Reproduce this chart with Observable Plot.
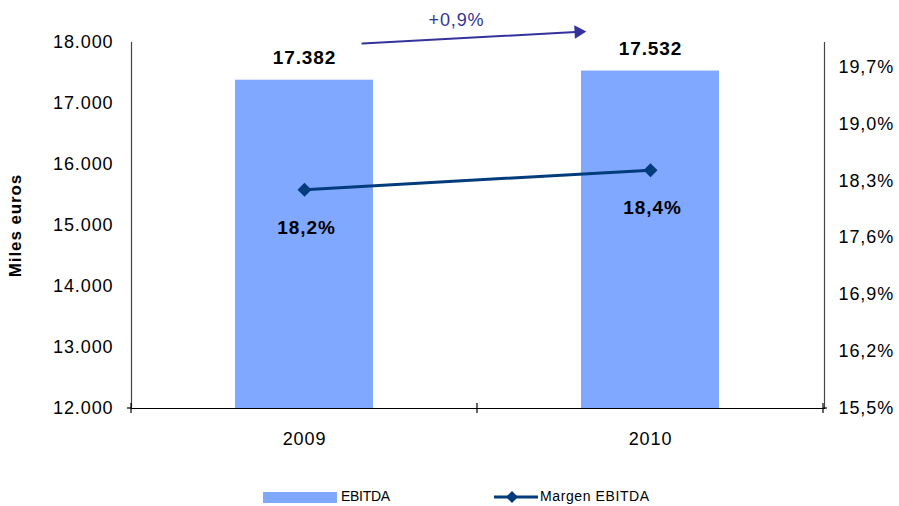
<!DOCTYPE html>
<html>
<head>
<meta charset="utf-8">
<script src="https://cdn.jsdelivr.net/npm/d3@7"></script>
<script src="https://cdn.jsdelivr.net/npm/@observablehq/plot@0.6"></script>
<style>
  body { margin: 0; background: #fff; font-family: "Liberation Sans", Arial, Helvetica, sans-serif; }
  #wrap { position: relative; width: 899px; height: 506px; }
  #chart svg text { letter-spacing: 0.9px; }
  .leg { position: absolute; top: 486px; height: 20px; font-size: 14px; letter-spacing: -0.3px; color: #000; }
</style>
</head>
<body>
<div id="wrap">
  <div id="chart"></div>
  <div class="leg" style="left:263px;">
    <span style="position:absolute;left:0;top:6px;width:74px;height:11px;background:#80a8ff;"></span>
    <span style="position:absolute;left:78px;top:2px;white-space:nowrap;">EBITDA</span>
  </div>
  <div class="leg" style="left:494px;">
    <svg width="44" height="20" style="position:absolute;left:0;top:1px;">
      <line x1="0" y1="10" x2="44" y2="10" stroke="#003c7c" stroke-width="3"/>
      <path d="M18,4 L24,10 L18,16 L12,10 Z" fill="#003c7c"/>
    </svg>
    <span style="position:absolute;left:46px;top:2px;white-space:nowrap;letter-spacing:0.6px;">Margen EBITDA</span>
  </div>
</div>
<script>
// ---- data ----
const years = ["2009", "2010"];
const ebitda = [17382, 17532];          // Miles euros
const margen = [18.19, 18.43];          // % margen EBITDA
const leftTicks = [12000, 13000, 14000, 15000, 16000, 17000, 18000];
const rightTicks = [15.5, 16.2, 16.9, 17.6, 18.3, 19.0, 19.7];
const growth = [{from: "2009", to: "2010", y1: 17930, y2: 18240, label: "+0,9%"}];

// ---- helpers ----
const yDomain = [12000, 18000];
const pDomain = [15.5, 20.0];
const toLeft = p => yDomain[0] + (p - pDomain[0]) / (pDomain[1] - pDomain[0]) * (yDomain[1] - yDomain[0]);
const fromLeft = v => pDomain[0] + (v - yDomain[0]) / (yDomain[1] - yDomain[0]) * (pDomain[1] - pDomain[0]);
const esLocale = d3.formatLocale({decimal: ",", thousands: ".", grouping: [3], currency: ["", "€"]});
const fmtThousands = esLocale.format(",.0f");
const fmtPct = v => esLocale.format(".1f")(v) + "%";

const bars = years.map((y, i) => ({year: y, value: ebitda[i]}));
const line = years.map((y, i) => ({year: y, pct: margen[i], v: toLeft(margen[i])}));

const font = "'Liberation Sans', Arial, Helvetica, sans-serif";

const chart = Plot.plot({
  width: 899,
  height: 482,
  marginLeft: 131,
  marginRight: 75,
  marginTop: 42,
  marginBottom: 74,
  style: {fontFamily: font, fontSize: "18px", color: "#000", background: "#fff"},
  x: {type: "band", domain: years, paddingInner: 0.6, paddingOuter: 0.3, label: null},
  y: {domain: yDomain, label: null},
  marks: [
    Plot.barY(bars, {x: "year", y1: yDomain[0], y2: "value", fill: "#80a8ff"}),
    Plot.frame({anchor: "left", stroke: "#444", strokeOpacity: 1, strokeWidth: 1.2}),
    Plot.frame({anchor: "right", stroke: "#444", strokeOpacity: 1, strokeWidth: 1.2}),
    Plot.frame({anchor: "bottom", stroke: "#000", strokeOpacity: 1, strokeWidth: 1.2}),
    Plot.axisY({anchor: "left", ticks: leftTicks, tickSize: 0, tickPadding: 18,
      tickFormat: fmtThousands, label: null, fontSize: 18}),
    Plot.axisY({anchor: "right", ticks: rightTicks.map(toLeft), tickSize: 0, tickPadding: 14,
      tickFormat: v => fmtPct(fromLeft(v)), label: null, fontSize: 18}),
    Plot.axisX({anchor: "bottom", tickSize: 0, tickPadding: 24, label: null, fontSize: 18}),
    Plot.text(["Miles euros"], {frameAnchor: "left", text: d => d, rotate: -90, dx: -116,
      textAnchor: "middle", fontWeight: "bold", fontSize: 17}),
    Plot.text(bars, {x: "year", y: "value", text: d => fmtThousands(d.value), dy: -22,
      fontWeight: "bold", fontSize: 19}),
    Plot.line(line, {x: "year", y: "v", stroke: "#003c7c", strokeWidth: 3}),
    Plot.dot(line, {x: "year", y: "v", symbol: "diamond2", r: 6.3, fill: "#003c7c"}),
    Plot.text(line, {x: "year", y: "v", text: d => fmtPct(d.pct), dy: 38, dx: 2,
      fontWeight: "bold", fontSize: 19}),
    Plot.arrow(growth, {x1: "from", y1: "y1", x2: "to", y2: "y2", insetStart: 58, insetEnd: 75,
      headLength: 0, stroke: "#33339b", strokeWidth: 2}),
    Plot.dot(growth, {x: "to", y: "y2", symbol: "triangle2", r: 6.5, rotate: 87, dx: -72, dy: 4,
      fill: "#33339b"}),
    Plot.text(growth, {x: "from", y: yDomain[1], text: "label", dx: 152, dy: -22,
      fill: "#33339b", fontSize: 18})
  ]
});

// tick marks on the category axis at the band boundaries
const xs = chart.scale("x");
const ys = chart.scale("y");
const gap = (xs.step - xs.bandwidth) / 2;
const bounds = years.map(y => xs.apply(y) - gap);
bounds.push(xs.apply(years[years.length - 1]) + xs.bandwidth + gap);
const yAxis = ys.apply(yDomain[0]);
const svg = d3.select(chart);
svg.append("g").attr("stroke", "#000").attr("stroke-width", 1.2)
  .selectAll("line").data(bounds).join("line")
  .attr("x1", d => d).attr("x2", d => d)
  .attr("y1", yAxis - 5).attr("y2", yAxis + 5);
svg.append("g").attr("stroke", "#000").attr("stroke-width", 1.2)
  .selectAll("line").data([[bounds[0], -4], [bounds[bounds.length - 1], 4]]).join("line")
  .attr("x1", d => d[0]).attr("x2", d => d[0] + d[1])
  .attr("y1", yAxis).attr("y2", yAxis);

document.getElementById("chart").appendChild(chart);
</script>
</body>
</html>
